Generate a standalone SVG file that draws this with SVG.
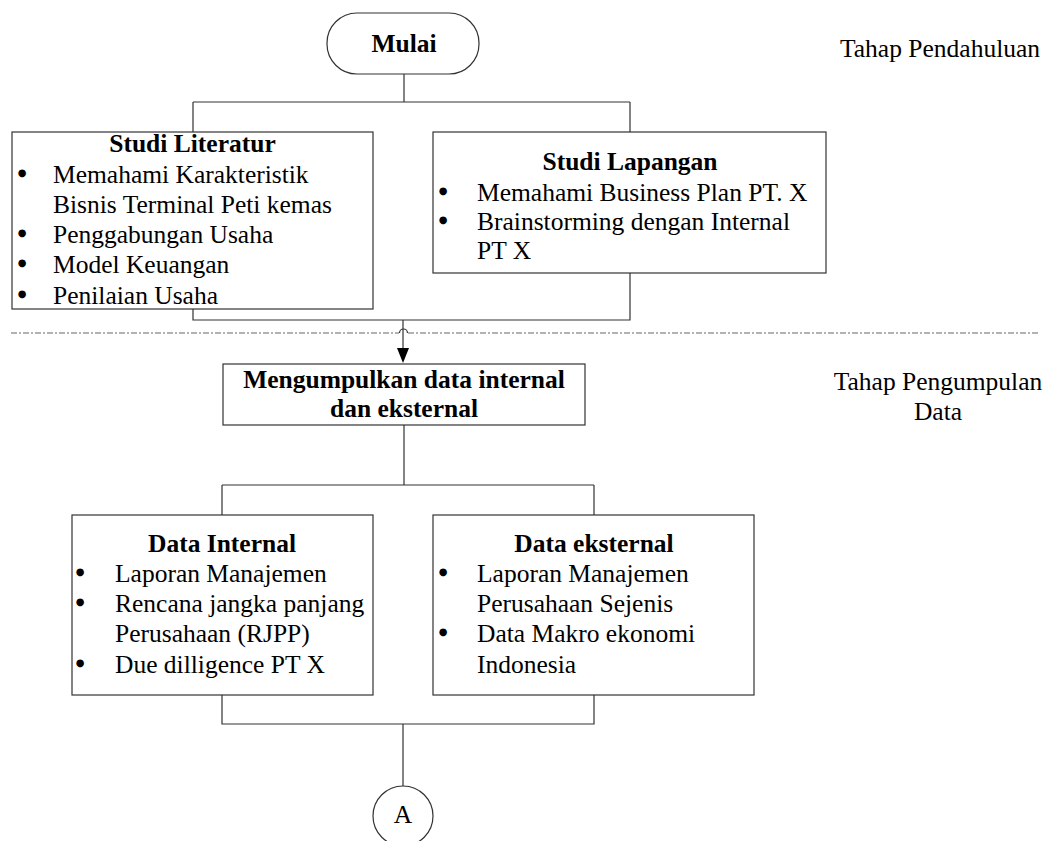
<svg xmlns="http://www.w3.org/2000/svg" width="1049" height="841" viewBox="0 0 1049 841">
<style>
text{font-family:"Liberation Serif","Times New Roman",serif;font-size:25.5px;fill:#000}
.b{font-weight:bold}
.m{text-anchor:middle}
.bu{text-anchor:middle;font-family:"DejaVu Sans",sans-serif;font-size:10px}
.box{fill:#fff;stroke:#333;stroke-width:1.2}
.ln{fill:none;stroke:#333;stroke-width:1.2}
.dash{fill:none;stroke:#666;stroke-width:1.2;stroke-dasharray:6 2 2 2}
</style>
<rect width="1049" height="841" fill="#fff"/>
<g id="connectors">
<path class="ln" d="M404,74 V102 M193,102 H630 M193,102 V132 M630,102 V132"/>
<path class="ln" d="M193,309 V320 H630 V273"/>
<path class="dash" d="M11,333 H399 M408,333 H1039"/>
<path class="ln" d="M399.5,333 A4,4 0 0 1 407.5,333" stroke="#666"/>
<line class="ln" x1="403" y1="320" x2="403" y2="348"/>
<path d="M397,348 L409,348 L403,363 Z" fill="#000"/>
<path class="ln" d="M404,425 V485 M222,485 H594 M222,485 V515 M594,485 V515"/>
<path class="ln" d="M222,695 V724 H594 V695 M403,724 V786"/>
</g>
<g id="mulai">
<rect class="box" x="327" y="13" width="152" height="61" rx="30" ry="30"/>
<text class="b m" x="404" y="52">Mulai</text>
</g>
<g id="studi-literatur">
<rect class="box" x="12" y="132" width="361" height="177"/>
<text class="b m" x="192.5" y="152">Studi Literatur</text>
<text x="22" y="176" class="bu">●</text><text x="53" y="183">Memahami Karakteristik</text>
<text x="53" y="213">Bisnis Terminal Peti kemas</text>
<text x="22" y="236" class="bu">●</text><text x="53" y="243">Penggabungan Usaha</text>
<text x="22" y="266" class="bu">●</text><text x="53" y="273">Model Keuangan</text>
<text x="22" y="297" class="bu">●</text><text x="53" y="304">Penilaian Usaha</text>
</g>
<g id="studi-lapangan">
<rect class="box" x="433" y="132" width="393" height="141"/>
<text class="b m" x="630" y="170">Studi Lapangan</text>
<text x="443" y="194" class="bu">●</text><text x="477" y="201">Memahami Business Plan PT. X</text>
<text x="443" y="223" class="bu">●</text><text x="477" y="230">Brainstorming dengan Internal</text>
<text x="477" y="259">PT X</text>
</g>
<g id="mengumpulkan">
<rect class="box" x="223" y="364" width="362" height="61"/>
<text class="b m" x="404" y="388">Mengumpulkan data internal</text>
<text class="b m" x="404" y="417">dan eksternal</text>
</g>
<g id="data-internal">
<rect class="box" x="72" y="515" width="301" height="180"/>
<text class="b m" x="222" y="552">Data Internal</text>
<text x="80" y="575" class="bu">●</text><text x="115" y="582">Laporan Manajemen</text>
<text x="80" y="605" class="bu">●</text><text x="115" y="612">Rencana jangka panjang</text>
<text x="115" y="642">Perusahaan (RJPP)</text>
<text x="80" y="666" class="bu">●</text><text x="115" y="673">Due dilligence PT X</text>
</g>
<g id="data-eksternal">
<rect class="box" x="433" y="515" width="321" height="180"/>
<text class="b m" x="594" y="552">Data eksternal</text>
<text x="443" y="575" class="bu">●</text><text x="477" y="582">Laporan Manajemen</text>
<text x="477" y="612">Perusahaan Sejenis</text>
<text x="443" y="635" class="bu">●</text><text x="477" y="642">Data Makro ekonomi</text>
<text x="477" y="673">Indonesia</text>
</g>
<g id="connector-a">
<circle class="box" cx="403" cy="816" r="30"/>
<text class="m" x="403" y="823">A</text>
</g>
<g id="labels">
<text x="840" y="57">Tahap Pendahuluan</text>
<text class="m" x="938" y="390">Tahap Pengumpulan</text>
<text class="m" x="938" y="420">Data</text>
</g>
</svg>
